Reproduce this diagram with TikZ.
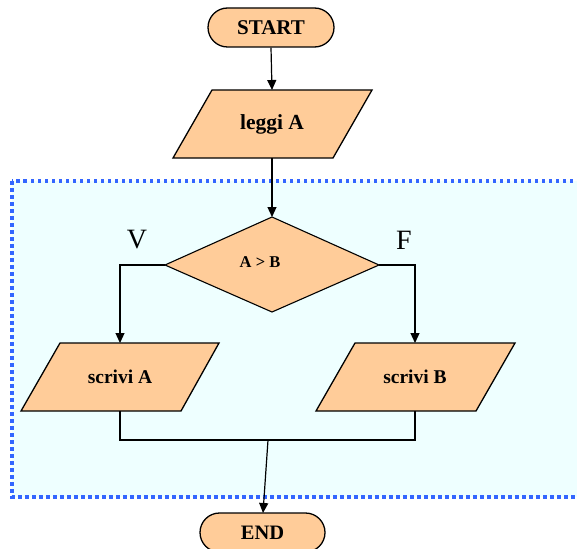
\documentclass[tikz,border=0pt]{standalone}
\usepackage{fontspec}
\setmainfont{Liberation Serif}
\usetikzlibrary{arrows.meta,shapes.misc}
\definecolor{shapefill}{RGB}{255,204,153}
\definecolor{boxfill}{RGB}{238,255,255}
\definecolor{dotblue}{RGB}{51,102,255}
\tikzset{
  shapeline/.style={draw=black, fill=shapefill, line width=1.3pt, line join=miter},
  terminal/.style={shape=rounded rectangle, draw=black, fill=shapefill, line width=1.3pt, minimum width=126pt, minimum height=39pt, inner sep=0pt},
  conn/.style={draw=black, line width=1.2pt},
  arr/.style={conn, -{Triangle[length=10pt,width=9pt]}},
  lbl/.style={inner sep=0pt, font=\bfseries},
  branchlbl/.style={inner sep=0pt, font=\fontsize{28}{28}\selectfont},
}
\begin{document}
\begin{tikzpicture}[x=1pt,y=-1pt]
\useasboundingbox (0,0) rectangle (577,548);
\clip (0,0) rectangle (577,548);
% dotted container
\draw[fill=boxfill, draw=dotblue, line width=3.5pt, dash pattern=on 3.5pt off 3.5pt] (12,181) rectangle (610,497);

% START
\node[terminal, font=\bfseries\fontsize{21}{21}\selectfont] (start) at (271,27.5) {START};

% leggi A
\path[shapeline] (212,90) -- (372,90) -- (333,158) -- (173,158) -- cycle;
\node[lbl, font=\bfseries\fontsize{21.5}{21.5}\selectfont] (leggi) at (272,124) {leggi A};
\coordinate (leggiT) at (272,90);
\coordinate (leggiB) at (272,158);

% decision
\path[shapeline, line width=1.1pt] (272,217) -- (379,265) -- (272,312) -- (165,265) -- cycle;
\node[lbl, font=\bfseries\fontsize{16.5}{16.5}\selectfont] (cond) at (260,262) {A > B};
\coordinate (decT) at (272,217);
\coordinate (decL) at (165,265);
\coordinate (decR) at (379,265);

\node[branchlbl] (vlbl) at (137,240) {V};
\node[branchlbl] (flbl) at (404,240) {F};

% scrivi A
\path[shapeline] (60,343) -- (219,343) -- (181,411) -- (21,411) -- cycle;
\node[lbl, font=\bfseries\fontsize{19.5}{19.5}\selectfont] (scrA) at (120,377) {scrivi A};
\coordinate (scrAT) at (120,343);
\coordinate (scrAB) at (120,411);

% scrivi B
\path[shapeline] (355,343) -- (515,343) -- (476,411) -- (316,411) -- cycle;
\node[lbl, font=\bfseries\fontsize{19.5}{19.5}\selectfont] (scrB) at (415,377) {scrivi B};
\coordinate (scrBT) at (415,343);
\coordinate (scrBB) at (415,411);

% END
\node[terminal, minimum width=125pt, font=\bfseries\fontsize{20.5}{20.5}\selectfont] (endn) at (262.5,532.5) {END};
\coordinate (endT) at (263,513);
\coordinate (merge) at (268,440);

% connectors
\draw[arr] (start.south) -- (leggiT);
\draw[arr] (leggiB) -- (decT);
\draw[arr] (decL) -| (scrAT);
\draw[arr] (decR) -| (scrBT);
\draw[conn] (scrAB) -- (120,440) -- (415,440) -- (scrBB);
\draw[arr] (merge) -- (endT);
\end{tikzpicture}
\end{document}
